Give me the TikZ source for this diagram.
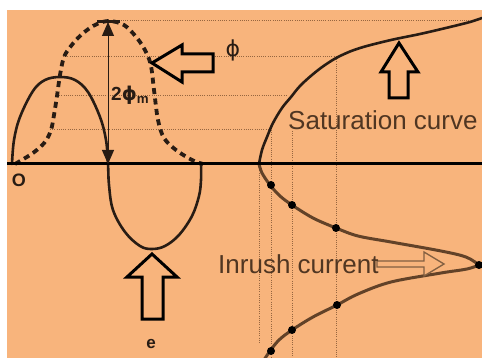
\documentclass[tikz,border=0pt]{standalone}
\usepackage{fontspec}
\setmainfont{Liberation Sans}
\newfontfamily\phifont{DejaVu Sans}
\usetikzlibrary{arrows.meta}
\definecolor{bg}{RGB}{248,180,124}
\definecolor{ink}{RGB}{40,28,20}
\definecolor{txt}{RGB}{80,54,34}
\definecolor{gridc}{RGB}{150,102,64}
\definecolor{inr}{RGB}{98,66,40}
\definecolor{hollow}{RGB}{130,95,65}
\begin{document}
\begin{tikzpicture}[x=1pt,y=-1pt,
  gridline/.style={gridc,line width=1pt,dash pattern=on 1pt off 1.2pt},
  curve/.style={ink,line width=2.6pt,line join=round,line cap=round},
  fluxcurve/.style={ink,line width=3.8pt,dash pattern=on 6pt off 4.5pt},
  blockarrow/.style={draw=black,fill=bg,line width=3pt,line join=miter},
  dot/.style={circle,fill=black,inner sep=0pt,minimum size=8pt},
  lbl/.style={txt,inner sep=0pt,font=\fontsize{26}{30}\selectfont}]
\useasboundingbox (0,0) rectangle (482,358);
\fill[white] (0,0) rectangle (482,358);
\fill[bg] (7,10) rectangle (482,358);
% dotted projection lines
\draw[gridline] (112,21) -- (470,21);
\draw[gridline] (63,57) -- (336,57);
\draw[gridline] (57,96) -- (287,96);
\draw[gridline] (50,130) -- (271,130);
\draw[gridline] (259,166) -- (259,343);
\draw[gridline] (271,130) -- (271,358);
\draw[gridline] (292,131) -- (292,358);
\draw[gridline] (336,57) -- (336,358);
% flux (dashed)
\draw[fluxcurve] plot[smooth,tension=0.55] coordinates {(15,164) (33,153) (45,142) (51,130) (54,115) (57,96) (60,75) (64,57) (71,46) (80,36) (93,26) (108,21) (124,25) (137,38) (146,52) (151,66) (154,90) (158,120) (164,138) (176,150) (192,160) (203,164)};
% voltage e (solid)
\draw[curve] plot[smooth,tension=0.6] coordinates {(12,164) (14,140) (20,117) (33,91) (45,80) (60,77) (75,80) (88,92) (100,117) (106,140) (108,164) (109,185) (113,210) (125,232) (140,246) (152,249) (165,246) (179,235) (192,216) (199,196) (201,180) (201,164)};
% saturation curve
\draw[curve] plot[smooth,tension=0.6] coordinates {(259,164) (262,150) (267,137) (273,123) (282,108) (291,97) (300,86) (312,75) (325,65) (340,56) (360,48) (391,40) (420,34) (450,27) (470,22) (482,18)};
% inrush current curve
\draw[inr,line width=3pt,line join=round] plot[smooth,tension=0.55] coordinates {(259,164) (262,173) (270,185) (280,196) (292,205) (313,218) (336,228) (358,236) (391,242) (441,251) (466,257) (479,265)};
\draw[inr,line width=3pt,line join=round] plot[smooth,tension=0.55] coordinates {(479,265) (467,269) (441,273) (391,282) (358,294) (337,305) (313,317) (292,330) (279,340) (270,351) (264,360)};
% axis
\draw[black,line width=3pt] (7,164) -- (482,164);
% dots
\foreach \p/\q in {271/185,292/205,336/228,479/265,337/305,292/330,271/351}
  \node[dot] at (\p,\q) {};
% 2phi_m arrow
\coordinate (ptop) at (108,22);
\coordinate (pbot) at (108,164);
\draw[ink,line width=1pt,{Triangle[length=14pt,width=12pt]}-{Triangle[length=14pt,width=12pt]}] (ptop) -- (pbot);
\draw[ink,line width=3pt] (97,22) -- (120,22);
% block arrows
\draw[blockarrow] (152,63) -- (182,45) -- (182,54) -- (213,54) -- (213,72) -- (182,72) -- (182,82) -- cycle;
\draw[blockarrow] (399,43) -- (418,72) -- (408,72) -- (408,98) -- (389,98) -- (389,72) -- (381,72) -- cycle;
\draw[blockarrow] (152,254) -- (177,277) -- (163,277) -- (163,319) -- (142,319) -- (142,277) -- (127,277) -- cycle;
\draw[hollow,fill=bg,line width=1.3pt,line join=miter] (377,261) -- (424,261) -- (424,252) -- (444,264) -- (424,276) -- (424,267) -- (377,267) -- cycle;
% labels
\node[lbl,anchor=base west] (sat) at (288,130) {Saturation curve};
\node[lbl,anchor=base west] (inrush) at (218,273) {Inrush current};
\node[ink,inner sep=0pt,font=\phifont\fontsize{22}{26}\selectfont] (phi) at (233,50) {ϕ};
\node[ink,inner sep=0pt,anchor=base west] (phim) at (111,101) {\fontsize{19}{22}\selectfont\bfseries 2{\phifont ϕ}\textsubscript{m}};
\node[ink,inner sep=0pt,font=\fontsize{17}{20}\selectfont\bfseries] (e) at (151,344) {e};
\node[ink,inner sep=0pt,font=\fontsize{18}{20}\selectfont\bfseries] (o) at (19,180) {O};
\end{tikzpicture}
\end{document}
